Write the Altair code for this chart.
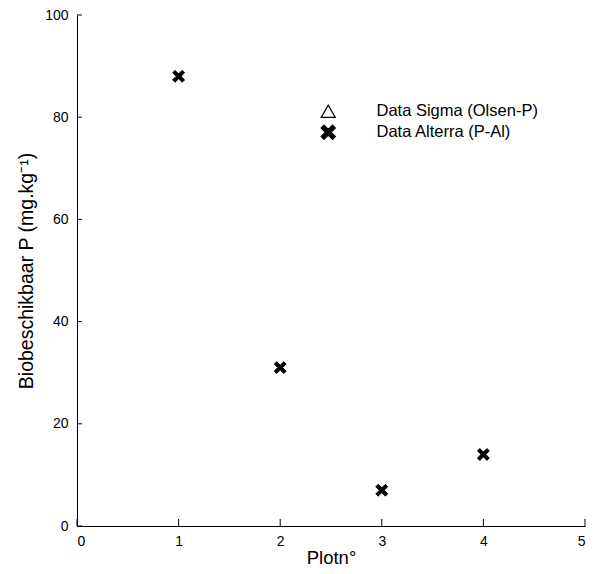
import altair as alt
import pandas as pd

# data
plot_no = [1, 2, 3, 4]
p_al = [88, 31, 7, 14]
series_names = ["Data Sigma (Olsen-P)", "Data Alterra (P-Al)"]
x_ticks = [0, 1, 2, 3, 4, 5]
y_ticks = [0, 20, 40, 60, 80, 100]

W, H = 508, 511
FONT = "Liberation Sans"

df = pd.DataFrame({"plot": plot_no, "p": p_al, "series": [series_names[1]] * len(plot_no)})
dfx = pd.DataFrame({"t": x_ticks})
dfy = pd.DataFrame({"t": y_ticks})

X_PATH = ("M -1 -0.6 L -0.6 -1 L 0 -0.4 L 0.6 -1 L 1 -0.6 L 0.4 0 L 1 0.6 "
          "L 0.6 1 L 0 0.4 L -0.6 1 L -1 0.6 L -0.4 0 Z")

xscale = alt.Scale(domain=[0, 5], nice=False, zero=False)
yscale = alt.Scale(domain=[0, 100], nice=False, zero=False)

xaxis = alt.Axis(values=x_ticks, ticks=False, tickSize=0, grid=False, labelPadding=8,
                 title="Plotn°", titlePadding=0, titleFontSize=18.5, format="d")
yaxis = alt.Axis(values=y_ticks, ticks=False, tickSize=0, grid=False, labelPadding=9,
                 title="Biobeschikbaar P (mg.kg⁻¹)", titlePadding=8, titleFontSize=19.5,
                 format="d")

sym_scale = alt.Scale(domain=series_names, range=["triangle-up", X_PATH])
fill_scale = alt.Scale(domain=series_names, range=["transparent", "black"])
stroke_scale = alt.Scale(domain=series_names, range=["black", "black"])

leg = alt.Legend(title=None, orient="none", legendX=243, legendY=88,
                 symbolSize=200, labelFontSize=16.5, labelFont=FONT, labelLimit=400,
                 labelOffset=40, rowPadding=2, padding=0,
                 symbolStrokeWidth=1.2, labelColor="black")

points = alt.Chart(df).mark_point(filled=True, size=140, strokeWidth=1, opacity=1).encode(
    x=alt.X("plot:Q", scale=xscale, axis=xaxis),
    y=alt.Y("p:Q", scale=yscale, axis=yaxis),
    shape=alt.Shape("series:N", scale=sym_scale, legend=leg),
    fill=alt.Fill("series:N", scale=fill_scale, legend=leg),
    stroke=alt.Stroke("series:N", scale=stroke_scale, legend=leg),
)

xt = alt.Chart(dfx).mark_rule(color="black", strokeWidth=1).encode(
    x=alt.X("t:Q", scale=xscale, axis=xaxis),
    y=alt.value(H), y2=alt.value(H - 7),
)
yt = alt.Chart(dfy).mark_rule(color="black", strokeWidth=1).encode(
    y=alt.Y("t:Q", scale=yscale, axis=yaxis),
    x=alt.value(0), x2=alt.value(5),
)

chart = alt.layer(points, xt, yt).properties(
    width=W, height=H,
    autosize=alt.AutoSizeParams(type="none"),
    padding={"left": 69, "top": 7, "right": 2, "bottom": 40},
).configure_view(stroke=None).configure_axis(
    domainColor="black", domainWidth=1, labelColor="black", titleColor="black",
    labelFont=FONT, titleFont=FONT, labelFontSize=14, titleFontWeight="normal",
)

chart.save("out.html", embed_options={"renderer": "svg", "actions": False})
